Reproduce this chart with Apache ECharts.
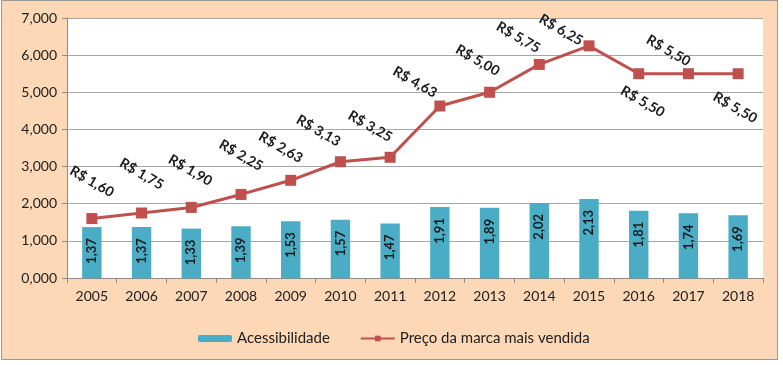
<!DOCTYPE html>
<html>
<head>
<meta charset="utf-8">
<script src="https://cdn.jsdelivr.net/npm/echarts@6/dist/echarts.min.js"></script>
<style>
  html, body { margin: 0; padding: 0; background: #ffffff; }
  #bg { position: absolute; left: 1px; top: 0px; width: 775px; height: 358px; background: #FCD8B6; border: 1px solid #9a9a9a; }
  #chart { position: absolute; left: 0; top: 0; width: 783px; height: 365px; }
</style>
</head>
<body>
<div id="bg"></div>
<div id="chart"></div>
<script>
// ---- data ----
const years = ['2005','2006','2007','2008','2009','2010','2011','2012','2013','2014','2015','2016','2017','2018'];
const acessibilidade = [1.37, 1.37, 1.33, 1.39, 1.53, 1.57, 1.47, 1.91, 1.89, 2.02, 2.13, 1.81, 1.74, 1.69];
const preco = [1.60, 1.75, 1.90, 2.25, 2.63, 3.13, 3.25, 4.63, 5.00, 5.75, 6.25, 5.50, 5.50, 5.50];
const yTicks = [0, 1, 2, 3, 4, 5, 6, 7];
const seriesNames = ['Acessibilidade', 'Preço da marca mais vendida'];

// ---- label placement (screen offsets from marker centre) ----
const priceLabelShift = [[0,-37],[0,-39],[-1,-37],[0,-39],[-10,-33],[-22,-31],[-20,-31],[-25,-24],[-12,-32],[-21,-27],[-28,-16],[4,28],[-20,-23],[-3,34]];
const LABEL_ROT = -30;

function invRot(d, deg) {
  const t = -deg * Math.PI / 180; // inverse rotation
  const c = Math.cos(t), s = Math.sin(t);
  return [d[0] * c + d[1] * s, -d[0] * s + d[1] * c];
}

const fmt2 = v => v.toFixed(2).replace('.', ',');
const fontFam = 'Lato, "Open Sans", sans-serif';

const chart = echarts.init(document.getElementById('chart'), null, { renderer: 'canvas' });

const lineData = preco.map((v, i) => ({
  value: v,
  label: { offset: invRot(priceLabelShift[i], LABEL_ROT) }
}));

chart.setOption({
  backgroundColor: 'transparent',
  animation: false,
  textStyle: { fontFamily: fontFam },
  grid: { left: 67, right: 20, top: 18, bottom: 87, show: true, backgroundColor: '#ffffff', borderWidth: 0 },
  legend: {
    data: seriesNames,
    left: 193,
    top: 326,
    itemWidth: 34,
    itemHeight: 7,
    itemGap: 30,
    textStyle: { fontSize: 15, color: '#222', fontFamily: fontFam }
  },
  xAxis: {
    type: 'category',
    data: years,
    boundaryGap: true,
    axisLine: { show: true, lineStyle: { color: '#8c8c8c', width: 1 } },
    axisTick: { show: true, length: 5, inside: false, alignWithLabel: false, lineStyle: { color: '#8c8c8c' } },
    axisLabel: { fontSize: 14, color: '#222', margin: 11, fontFamily: fontFam }
  },
  yAxis: {
    type: 'value',
    min: yTicks[0],
    max: yTicks[yTicks.length - 1],
    interval: 1,
    axisLine: { show: true, lineStyle: { color: '#8c8c8c', width: 1 } },
    axisTick: { show: true, length: 5, lineStyle: { color: '#8c8c8c' } },
    splitLine: { show: true, lineStyle: { color: '#a6a6a6', width: 1 } },
    axisLabel: {
      fontSize: 14, color: '#222', margin: 10, fontFamily: fontFam,
      formatter: v => v.toFixed(3).replace('.', ',')
    }
  },
  series: [
    {
      name: seriesNames[0],
      type: 'bar',
      data: acessibilidade,
      barWidth: '39%',
      itemStyle: { color: '#4BACC6' },
      label: {
        show: true,
        position: 'insideTop',
        distance: 11,
        rotate: 90,
        align: 'right',
        verticalAlign: 'middle',
        fontSize: 13,
        fontWeight: 'bold',
        color: '#1a1a1a',
        fontFamily: fontFam,
        formatter: p => fmt2(p.value)
      },
      z: 2
    },
    {
      name: seriesNames[1],
      type: 'line',
      data: lineData,
      symbol: 'rect',
      symbolSize: 11,
      lineStyle: { color: '#C0504D', width: 3 },
      itemStyle: { color: '#C0504D' },
      label: {
        show: true,
        position: 'inside',
        rotate: LABEL_ROT,
        align: 'center',
        verticalAlign: 'middle',
        fontSize: 14,
        fontWeight: 'bold',
        color: '#1a1a1a',
        fontFamily: fontFam,
        formatter: p => 'R$ ' + fmt2(p.value)
      },
      z: 3
    }
  ]
});
</script>
</body>
</html>
